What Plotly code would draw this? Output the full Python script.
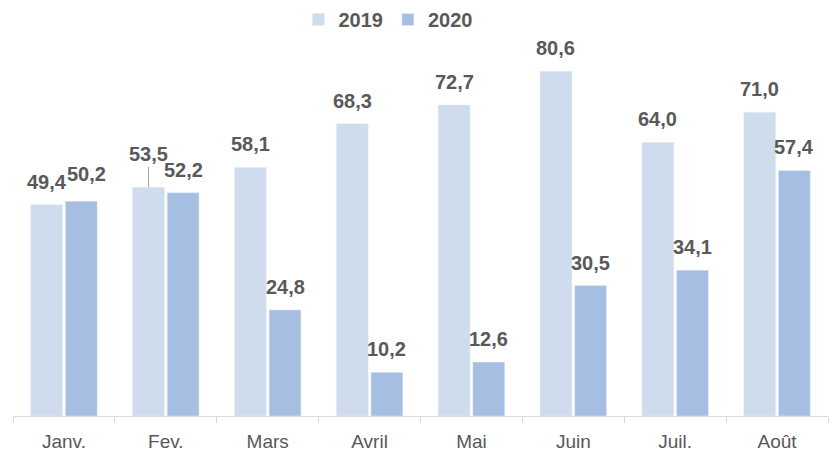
import plotly.graph_objects as go

months = ["Janv.", "Fev.", "Mars", "Avril", "Mai", "Juin", "Juil.", "Août"]
v2019 = [49.4, 53.5, 58.1, 68.3, 72.7, 80.6, 64.0, 71.0]
v2020 = [50.2, 52.2, 24.8, 10.2, 12.6, 30.5, 34.1, 57.4]

def fmt(v):
    return f"{v:.1f}".replace(".", ",")

c2019 = "#cfdcee"
c2020 = "#a7bee3"
txtc = "#595959"
font = "Liberation Sans, Arial, sans-serif"

BARGAP = 0.32
BARGROUPGAP = 0.08
slot = (1 - BARGAP) / 4  # centre offset of each bar from its category centre

fig = go.Figure()
fig.add_trace(go.Bar(x=months, y=v2019, name="2019", marker_color=c2019))
fig.add_trace(go.Bar(x=months, y=v2020, name="2020", marker_color=c2020))

lab_font = dict(family=font, size=20, color=txtc, weight="bold")
callout = (0, 1)          # Fev. 2019 label is raised with a leader line
nudge = {(1, 0): (5, 4)}   # small nudge (dx, dy) to avoid overlap

for s, (vals, off) in enumerate([(v2019, -slot), (v2020, slot)]):
    for i, v in enumerate(vals):
        if (s, i) == callout:
            fig.add_annotation(x=i + off, y=v, xref="x", yref="y", text=fmt(v),
                               showarrow=True, arrowhead=0, arrowwidth=1,
                               arrowcolor="#a6a6a6", ax=0, ay=-33, standoff=0,
                               font=lab_font)
        else:
            dx, dy = nudge.get((s, i), (0, 0))
            fig.add_annotation(x=i + off, y=v, xref="x", yref="y", text=fmt(v),
                               showarrow=False, yanchor="bottom", yshift=10 + dy,
                               xshift=dx, font=lab_font)

fig.update_layout(
    width=834, height=453,
    margin=dict(l=13, r=6, t=31, b=37, autoexpand=False),
    paper_bgcolor="white", plot_bgcolor="white",
    barmode="group", bargap=BARGAP, bargroupgap=BARGROUPGAP,
    showlegend=True,
    legend=dict(orientation="h", x=0.46, xanchor="center", y=1, yref="container",
                yanchor="top", font=dict(family=font, size=20, color=txtc, weight="bold"),
                itemwidth=30, traceorder="normal", tracegroupgap=0),
    xaxis=dict(showline=True, linecolor="#d9d9d9", linewidth=1,
               ticks="outside", tickson="boundaries", ticklen=6, tickcolor="#d9d9d9",
               ticklabelstandoff=8,
               tickfont=dict(family=font, size=19, color=txtc), showgrid=False),
    yaxis=dict(range=[0, 90], visible=False, showgrid=False, zeroline=False),
)

fig.write_html("out.html", config={"displayModeBar": False},
               post_script="document.body.style.margin='0';document.body.style.overflow='hidden';")
